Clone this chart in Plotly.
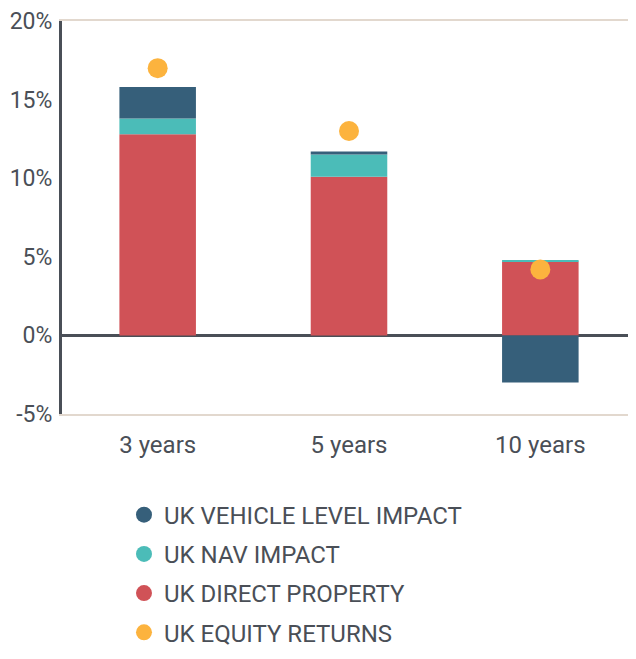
import plotly.graph_objects as go

periods = ["3 years", "5 years", "10 years"]
direct_property = [12.8, 10.1, 4.7]
nav_impact = [1.0, 1.4, 0.1]
vehicle_impact = [2.0, 0.2, -3.0]
equity_returns = [17.0, 13.0, 4.2]
y_ticks = [-5, 0, 5, 10, 15, 20]
y_tick_labels = ["-5%", "0%", "5%", "10%", "15%", "20%"]

C_VEH = "#365f7a"
C_NAV = "#4bbcb8"
C_DIR = "#d05257"
C_EQ = "#fcb33e"
TXT = "#4a4f57"
FONT = "Roboto"

fig = go.Figure()
fig.add_bar(x=periods, y=direct_property, marker=dict(color=C_DIR, line_width=0),
            name="UK DIRECT PROPERTY", showlegend=False)
fig.add_bar(x=periods, y=nav_impact, marker=dict(color=C_NAV, line_width=0),
            name="UK NAV IMPACT", showlegend=False)
fig.add_bar(x=periods, y=vehicle_impact, marker=dict(color=C_VEH, line_width=0),
            name="UK VEHICLE LEVEL IMPACT", showlegend=False)
fig.add_scatter(x=periods, y=equity_returns, mode="markers",
                marker=dict(color=C_EQ, size=20), name="UK EQUITY RETURNS", showlegend=False)

# legend entries (circle symbols)
for name, col in [("UK VEHICLE LEVEL IMPACT", C_VEH), ("UK NAV IMPACT", C_NAV),
                  ("UK DIRECT PROPERTY", C_DIR), ("UK EQUITY RETURNS", C_EQ)]:
    fig.add_scatter(x=[None], y=[None], mode="markers", name=name,
                    marker=dict(color=col, size=26), legendgroup=name, showlegend=True)

# page body has an 8px margin, so the figure is sized/offset to compensate
fig.update_layout(
    width=628, height=643,
    barmode="relative", bargap=0.6,
    plot_bgcolor="white", paper_bgcolor="white",
    margin=dict(l=54, r=0, t=13, b=237, autoexpand=False),
    font=dict(family=FONT, color=TXT),
    legend=dict(orientation="v", x=0.108, xanchor="left", y=-0.20, yanchor="top",
                font=dict(size=24, color=TXT, family=FONT), tracegroupgap=5,
                itemsizing="trace"),
)
fig.update_xaxes(showline=True, mirror=True, linecolor="#e2d8ce", linewidth=1.5,
                 ticks="", tickfont=dict(size=24, color=TXT), automargin=False,
                 ticklabelstandoff=8, ticklabeloverflow="allow")
fig.update_yaxes(range=[-5, 20], tickvals=y_ticks, ticktext=y_tick_labels,
                 showgrid=False, showline=True, linecolor=TXT, linewidth=3,
                 zeroline=True, zerolinecolor=TXT, zerolinewidth=3, automargin=False,
                 ticks="", tickfont=dict(size=23, color=TXT), ticklabelstandoff=2,
                 ticklabeloverflow="allow")

fig.write_html("out.html")
